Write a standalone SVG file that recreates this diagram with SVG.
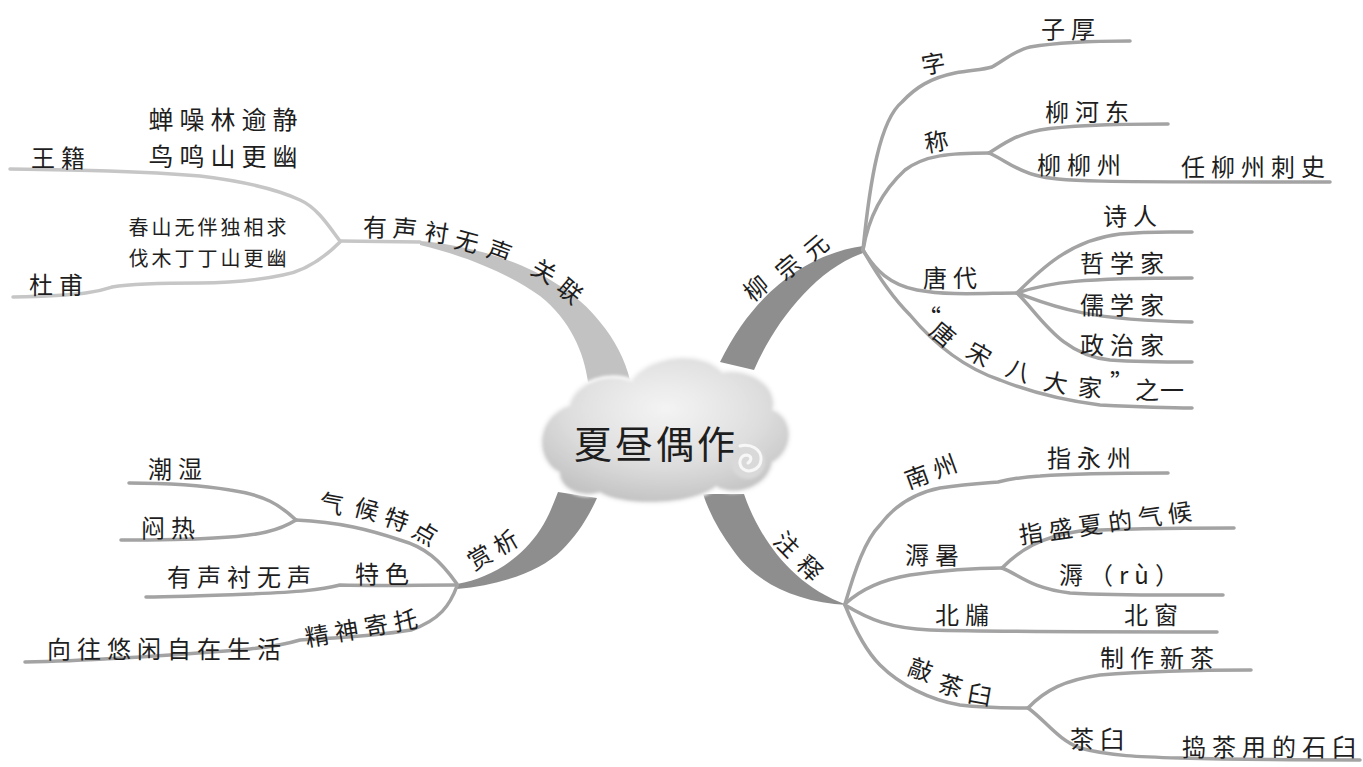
<svg xmlns="http://www.w3.org/2000/svg" width="1363" height="767" viewBox="0 0 1363 767">
<defs>
<style>
text{font-family:"Noto Sans CJK SC","Noto Sans CJK JP",sans-serif;fill:#1e1e1e;text-anchor:middle;dominant-baseline:central}
.t{font-size:24px;letter-spacing:6px}
.s{font-size:20px;letter-spacing:3px}
.c{font-size:24px}
.ln{fill:none;stroke:#a3a3a3;stroke-width:3.5;stroke-linecap:round}
.lt{fill:none;stroke:#c6c6c6;stroke-width:3.5;stroke-linecap:round}
.thick{fill:#8e8e8e}
.thickl{fill:#c2c2c2}
</style>
<radialGradient id="cg" cx="0.5" cy="0.35" r="0.65">
<stop offset="0" stop-color="#f4f4f4"/>
<stop offset="0.6" stop-color="#dedede"/>
<stop offset="1" stop-color="#c4c4c4"/>
</radialGradient>
<filter id="soft" x="-10%" y="-10%" width="120%" height="120%">
<feGaussianBlur stdDeviation="1.5"/>
</filter>
</defs>
<rect width="1363" height="767" fill="#ffffff"/>

<g id="connectors">
<!-- thick main branches -->
<path class="thickl" d="M 420 241 C 480 246 560 270 600 322 C 615 340 625 360 630 380 L 588 382 C 584 352 570 320 540 296 C 510 275 470 257 420 245 Z"/>
<path class="thick" d="M 863 246 C 820 252 760 280 720 362 L 754 370 C 775 322 815 270 863 253 Z"/>
<path class="thick" d="M 457 584 C 490 578 520 560 540 530 C 548 518 553 505 558 492 L 597 498 C 587 520 576 536 562 550 C 540 572 500 585 457 589 Z"/>
<path class="thick" d="M 703 494 L 744 494 C 758 535 790 585 847 605 C 795 602 755 582 733 550 C 720 532 710 515 703 494 Z"/>

<!-- top-left sub branches -->
<path class="lt" d="M 420 242 L 340 241"/>
<path class="lt" d="M 340 241 C 330 228 318 208 300 200 C 270 186 233 180 200 176 C 140 171 80 170 10 169"/>
<path class="lt" d="M 340 242 C 320 262 300 272 283 275 C 250 282 220 283 200 283 C 160 283 130 284 112 287 C 100 291 90 295 13 297"/>

<!-- top-right sub branches -->
<path class="ln" d="M 863 250 C 870 180 880 120 902 102 C 915 88 930 78 955 73 C 970 70 983 70 992 67 C 1005 60 1015 50 1030 47 C 1060 42 1090 41 1130 41"/>
<path class="ln" d="M 863 250 C 868 220 880 193 905 170 C 925 155 950 153 989 153"/>
<path class="ln" d="M 989 153 C 1005 143 1015 135 1040 130 C 1070 125 1110 124 1168 124"/>
<path class="ln" d="M 989 153 C 1005 160 1015 170 1035 175 C 1060 182 1090 182 1330 182"/>
<path class="ln" d="M 863 250 C 875 270 890 285 917 290 C 950 296 985 293 1017 293"/>
<path class="ln" d="M 1017 293 C 1040 270 1070 240 1120 234 C 1150 231 1170 232 1192 232"/>
<path class="ln" d="M 1017 293 C 1050 282 1080 278 1192 278"/>
<path class="ln" d="M 1017 293 C 1050 305 1080 320 1192 322"/>
<path class="ln" d="M 1017 293 C 1040 315 1060 355 1110 360 C 1140 362 1170 362 1192 362"/>
<path class="ln" d="M 863 250 C 880 280 895 300 910 315 C 935 345 965 368 1000 380 C 1030 392 1060 400 1100 405 C 1140 407 1170 408 1192 408"/>

<!-- bottom-left sub branches -->
<path class="ln" d="M 457 584 C 440 560 425 547 400 540 C 370 530 340 522 296 520"/>
<path class="ln" d="M 296 520 C 280 505 265 495 230 490 C 200 485 160 483 129 483"/>
<path class="ln" d="M 296 520 C 280 530 260 536 214 538 C 180 540 150 540 121 540"/>
<path class="ln" d="M 457 585 C 420 585 380 586 340 585 C 320 590 300 592 250 594 C 200 596 170 597 146 597"/>
<path class="ln" d="M 457 586 C 450 605 440 620 411 630 C 370 637 330 638 300 640 C 290 643 280 646 250 649 C 150 657 80 661 25 662"/>

<!-- bottom-right sub branches -->
<path class="ln" d="M 845 604 C 855 570 865 540 880 525 C 895 505 915 493 940 488 C 965 484 985 483 998 482 C 1010 479 1020 477 1040 476 C 1080 473 1120 473 1168 473"/>
<path class="ln" d="M 845 604 C 860 590 880 580 910 575 C 945 570 975 568 1002 568"/>
<path class="ln" d="M 1002 568 C 1020 550 1040 537 1080 531 C 1130 528 1180 528 1234 528"/>
<path class="ln" d="M 1002 568 C 1020 575 1030 588 1070 593 C 1120 596 1170 595 1223 595"/>
<path class="ln" d="M 845 605 C 870 620 890 628 930 630 C 1000 632 1100 632 1217 632"/>
<path class="ln" d="M 845 605 C 855 630 865 650 880 665 C 900 685 930 700 960 705 C 985 708 1005 708 1028 708"/>
<path class="ln" d="M 1028 708 C 1045 690 1065 680 1100 675 C 1150 671 1200 670 1251 670"/>
<path class="ln" d="M 1028 708 C 1045 720 1058 740 1080 748 C 1110 756 1140 757 1180 758 C 1250 760 1310 760 1360 760"/>
</g>

<g id="center">
<path d="M 560 472 C 535 460 535 418 570 406 C 576 382 610 372 632 382 C 648 356 702 350 722 373 C 748 368 778 386 772 410 C 796 420 792 452 772 462 C 766 490 732 496 716 486 C 690 506 622 506 600 492 C 580 498 560 488 560 472 Z" fill="#ffffff" filter="url(#soft)" stroke="#f6f6f6" stroke-width="6"/>
<path d="M 560 472 C 535 460 535 418 570 406 C 576 382 610 372 632 382 C 648 356 702 350 722 373 C 748 368 778 386 772 410 C 796 420 792 452 772 462 C 766 490 732 496 716 486 C 690 506 622 506 600 492 C 580 498 560 488 560 472 Z" fill="url(#cg)" filter="url(#soft)"/>
<circle cx="748" cy="462" r="17" fill="#d9d9d9" filter="url(#soft)"/>
<path d="M 748 463 C 752 460 752 456 747 455 C 740 455 738 463 742 468 C 748 474 760 470 761 460 C 762 449 750 443 740 446" fill="none" stroke="#f7f7f7" stroke-width="3" stroke-linecap="round"/>
<text x="656" y="441" style="font-size:38px;letter-spacing:3px">夏昼偶作</text>
</g>

<g id="n-guanlian">
<text class="c" transform="translate(375,225)">有</text>
<text class="c" transform="translate(405,227) rotate(5)">声</text>
<text class="c" transform="translate(437,231) rotate(8)">衬</text>
<text class="c" transform="translate(467,240) rotate(15)">无</text>
<text class="c" transform="translate(500,250) rotate(20)">声</text>
<text class="c" transform="translate(545,270) rotate(30)">关</text>
<text class="c" transform="translate(571,290) rotate(40)">联</text>
</g>
<g id="n-wangji">
<text class="t" x="61" y="156">王籍</text>
<text class="t" x="226" y="118" style="font-size:25px">蝉噪林逾静</text>
<text class="t" x="226" y="155" style="font-size:25px">鸟鸣山更幽</text>
</g>
<g id="n-dufu">
<text class="t" x="59" y="283">杜甫</text>
<text class="s" x="209" y="226">春山无伴独相求</text>
<text class="s" x="209" y="257">伐木丁丁山更幽</text>
</g>

<g id="n-liuzongyuan">
<text class="c" transform="translate(755,287) rotate(-40)">柳</text>
<text class="c" transform="translate(787,266) rotate(-40)">宗</text>
<text class="c" transform="translate(815,246) rotate(-40)">元</text>
</g>
<g id="n-zi">
<text class="c" transform="translate(933,62) rotate(-10)">字</text>
<text class="t" x="1071" y="27">子厚</text>
</g>
<g id="n-cheng">
<text class="c" transform="translate(936,140) rotate(-10)">称</text>
<text class="t" x="1090" y="110">柳河东</text>
<text class="t" x="1082" y="163">柳柳州</text>
<text class="t" x="1256" y="165">任柳州刺史</text>
</g>
<g id="n-tangdai">
<text class="t" x="953" y="276">唐代</text>
<text class="t" x="1133" y="214">诗人</text>
<text class="t" x="1125" y="261">哲学家</text>
<text class="t" x="1125" y="303">儒学家</text>
<text class="t" x="1125" y="343">政治家</text>
</g>
<g id="n-badajia">
<text class="c" transform="translate(929,316)">“</text>
<text class="c" transform="translate(944,333) rotate(40)">唐</text>
<text class="c" transform="translate(980,353) rotate(30)">宋</text>
<text class="c" transform="translate(1019,369) rotate(20)">八</text>
<text class="c" transform="translate(1056,381) rotate(10)">大</text>
<text class="c" transform="translate(1090,386) rotate(5)">家</text>
<text class="c" transform="translate(1122,380)">”</text>
<text class="c" transform="translate(1147,388)">之</text>
<text class="c" transform="translate(1172,388)">一</text>
</g>

<g id="n-shangxi">
<text class="c" transform="translate(479,556) rotate(-30)">赏</text>
<text class="c" transform="translate(505,541) rotate(-30)">析</text>
</g>
<g id="n-qihou">
<text class="c" transform="translate(332,502) rotate(10)">气</text>
<text class="c" transform="translate(367,508) rotate(15)">候</text>
<text class="c" transform="translate(397,518) rotate(20)">特</text>
<text class="c" transform="translate(426,532) rotate(30)">点</text>
<text class="t" x="178" y="467">潮湿</text>
<text class="t" x="171" y="526">闷热</text>
</g>
<g id="n-tese">
<text class="t" x="385" y="572">特色</text>
<text class="t" x="242" y="575">有声衬无声</text>
</g>
<g id="n-jingshen">
<text class="t" transform="translate(364,626) rotate(-10)">精神寄托</text>
<text class="t" x="167" y="647">向往悠闲自在生活</text>
</g>

<g id="n-zhushi">
<text class="c" transform="translate(788,543) rotate(45)">注</text>
<text class="c" transform="translate(811,567) rotate(45)">释</text>
</g>
<g id="n-nanzhou">
<text class="t" transform="translate(933,469) rotate(-20)">南州</text>
<text class="t" x="1092" y="456">指永州</text>
</g>
<g id="n-rushu">
<text class="t" x="935" y="553">溽暑</text>
<text class="t" transform="translate(1108,521) rotate(-8)">指盛夏的气候</text>
<text class="t" x="1122" y="573">溽（rù）</text>
</g>
<g id="n-beiyou">
<text class="t" x="965" y="613">北牖</text>
<text class="t" x="1154" y="613">北窗</text>
</g>
<g id="n-qiaochajiu">
<text class="c" transform="translate(921,668) rotate(20)">敲</text>
<text class="c" transform="translate(951,684) rotate(15)">茶</text>
<text class="c" transform="translate(980,693) rotate(10)">臼</text>
<text class="t" x="1160" y="656">制作新茶</text>
<text class="t" x="1100" y="737">茶臼</text>
<text class="t" x="1272" y="745">捣茶用的石臼</text>
</g>
</svg>
